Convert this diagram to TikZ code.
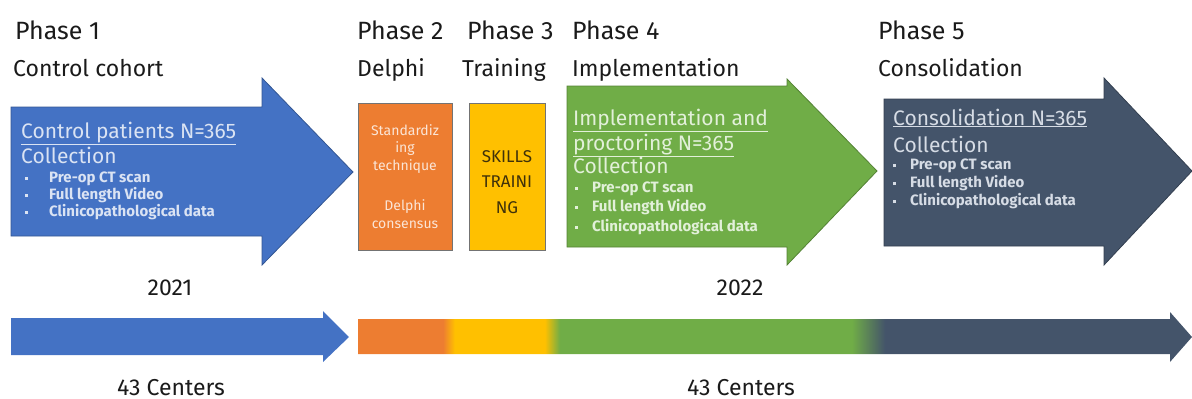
\documentclass[tikz,border=0pt]{standalone}
\usepackage{fontspec}
\setmainfont{Fira Sans}

\definecolor{phaseblue}{HTML}{4472C4}
\definecolor{phaseorange}{HTML}{ED7D31}
\definecolor{phaseyellow}{HTML}{FFC000}
\definecolor{phasegreen}{HTML}{70AD47}
\definecolor{phasenavy}{HTML}{44546A}
\definecolor{bluetext}{HTML}{DAE3F3}
\definecolor{orangetext}{HTML}{FBE5D6}
\definecolor{yellowtext}{HTML}{3F310A}
\definecolor{greentext}{HTML}{E2F0D9}
\definecolor{navytext}{HTML}{D6DCE5}
\definecolor{ink}{HTML}{1A1A1A}

% colour run of the time line, path spans 358..1192
\pgfdeclarehorizontalshading{timeline}{100bp}{color(0bp)=(phaseorange);
  color(30.1bp)=(phaseorange); color(30.8bp)=(phaseyellow);
  color(36.2bp)=(phaseyellow); color(37.1bp)=(phasegreen);
  color(54.6bp)=(phasegreen); color(56.6bp)=(phasenavy);
  color(100bp)=(phasenavy)}

% small square bullet
\newcommand{\sqbul}{\rule[2pt]{3pt}{3pt}}

\begin{document}
\begin{tikzpicture}[x=1pt,y=-1pt,
    every node/.style={inner sep=0pt},
    phase/.style={anchor=base west,font=\fontsize{25}{29}\selectfont,text=ink},
    stage/.style={anchor=base west,font=\fontsize{23}{27}\selectfont,text=ink},
    head/.style={anchor=base west,font=\fontsize{21}{24}\selectfont},
    item/.style={anchor=base west,font=\fontsize{15}{17}\selectfont\bfseries},
    boxtext/.style={anchor=base,font=\fontsize{14}{16}\selectfont},
    note/.style={anchor=base,font=\fontsize{23}{27}\selectfont,text=ink}]
    \useasboundingbox (0,0) rectangle (1192,399);

    % phase titles
    \foreach \x/\xs/\n/\s in {15/13/1/Control cohort, 357/357/2/Delphi,
      467/462/3/Training, 572/572/4/Implementation, 878/878/5/Consolidation} {
      \node[phase] (ph\n) at (\x,39) {Phase \n};
      \node[stage] (st\n) at (\xs,76) {\s};
    }

    % phase 1
    \filldraw[fill=phaseblue,draw=phaseblue!75!black,line width=.8pt]
      (11,107) -- (262,107) -- (262,78) -- (353,172)
      -- (262,265) -- (262,236) -- (11,236) -- cycle;
    \node[head,text=bluetext] (ctl) at (21,138) {\underline{Control patients N=365}};
    \node[head,text=bluetext] (ctlc) at (21,163) {Collection};
    \foreach \t/\y [count=\i] in {Pre-op CT scan/182, Full length Video/199,
      Clinicopathological data/216}
      \node[item,text=bluetext] (ctl\i) at (25,\y) {\makebox[24pt][l]{\sqbul}\t};

    % phase 2 and 3
    \filldraw[fill=phaseorange,draw=black!55,line width=.8pt] (358,103) rectangle (452,250);
    \foreach \t/\y [count=\i] in {Standardiz/135, ing/152, technique/170,
      Delphi/210, consensus/228}
      \node[boxtext,text=orangetext] (dl\i) at (405,\y) {\t};
    \filldraw[fill=phaseyellow,draw=black!55,line width=.8pt] (469,103) rectangle (545,250);
    \foreach \t/\y [count=\i] in {SKILLS/162, TRAINI/187, NG/213}
      \node[boxtext,text=yellowtext,font=\fontsize{17}{20}\selectfont] (tr\i) at (507,\y) {\t};

    % phase 4
    \filldraw[fill=phasegreen,draw=phasegreen!75!black,line width=.8pt]
      (567,86) -- (787,86) -- (787,79) -- (877,171)
      -- (787,265) -- (787,247) -- (567,247) -- cycle;
    \node[head,text=greentext] (imp) at (573,125) {\underline{Implementation and}};
    \node[head,text=greentext] (impn) at (573,150) {\underline{proctoring N=365}};
    \node[head,text=greentext] (impc) at (573,173) {Collection};
    \foreach \t/\y [count=\i] in {Pre-op CT scan/192, Full length Video/211,
      Clinicopathological data/231}
      \node[item,text=greentext] (imp\i) at (575,\y) {\makebox[17pt][l]{\sqbul}\t};

    % phase 5
    \filldraw[fill=phasenavy,draw=phasenavy!75!black,line width=.8pt]
      (884,99) -- (1104,99) -- (1104,78) -- (1192,171)
      -- (1104,265) -- (1104,246) -- (884,246) -- cycle;
    \node[head,text=navytext] (con) at (893,125) {\underline{Consolidation N=365}};
    \node[head,text=navytext] (conc) at (893,152) {Collection};
    \foreach \t/\y [count=\i] in {Pre-op CT scan/169, Full length Video/187,
      Clinicopathological data/205}
      \node[item,text=navytext] (con\i) at (893,\y) {\makebox[17pt][l]{\sqbul}\t};

    % time line
    \fill[phaseblue] (11,318) -- (323,318) -- (323,311) -- (349,337)
      -- (323,362) -- (323,355) -- (11,355) -- cycle;
    \shade[shading=timeline] (358,319) -- (1170,319) -- (1170,312) -- (1192,337)
      -- (1170,362) -- (1170,354) -- (358,354) -- cycle;

    \node[note] (y1) at (170,295) {2021};
    \node[note] (y2) at (740,295) {2022};
    \node[note] (c1) at (171,395) {43 Centers};
    \node[note] (c2) at (741,395) {43 Centers};
\end{tikzpicture}
\end{document}
